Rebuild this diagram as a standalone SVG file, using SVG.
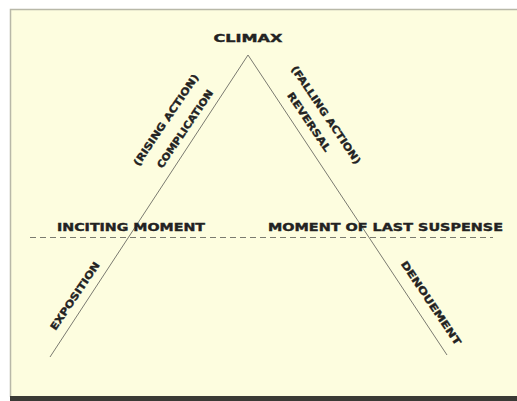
<svg xmlns="http://www.w3.org/2000/svg" width="517" height="401" viewBox="0 0 517 401">
<style>
.lbl{font-family:"DejaVu Sans","Liberation Sans",sans-serif;font-weight:bold;font-size:10px;fill:#222;stroke:#222;stroke-width:0.35}
.conn{stroke:#7a7a70;stroke-width:1;fill:none}
</style>
<rect x="0" y="0" width="517" height="401" fill="#ffffff"/>
<rect x="10" y="9" width="507" height="389" fill="#fdfddf"/>
<path d="M10.5 397 V9.5 H517" fill="none" stroke="#b8b8a8" stroke-width="1.5"/>
<rect x="10" y="396" width="507" height="5" fill="#3a3a35"/>
<g id="connectors">
<path class="conn" d="M50 357 L248 55 L447 355"/>
<path class="conn" d="M30 237.5 H493" stroke-dasharray="6 4"/>
</g>
<g id="climax"><text class="lbl" x="248" y="42" text-anchor="middle" font-size="11.5" textLength="69" lengthAdjust="spacingAndGlyphs">CLIMAX</text></g>
<g id="inciting"><text class="lbl" x="57" y="230.5" textLength="148" lengthAdjust="spacingAndGlyphs">INCITING MOMENT</text></g>
<g id="suspense"><text class="lbl" x="268" y="230.5" textLength="235" lengthAdjust="spacingAndGlyphs">MOMENT OF LAST SUSPENSE</text></g>
<g id="rising"><text class="lbl" transform="translate(166,120) rotate(-56)" x="0" y="3.5" text-anchor="middle" textLength="108" lengthAdjust="spacingAndGlyphs">(RISING ACTION)</text></g>
<g id="complication"><text class="lbl" transform="translate(185,129) rotate(-56)" x="0" y="3.5" text-anchor="middle" textLength="92" lengthAdjust="spacingAndGlyphs">COMPLICATION</text></g>
<g id="falling"><text class="lbl" transform="translate(326,115) rotate(56)" x="0" y="3.5" text-anchor="middle" textLength="116" lengthAdjust="spacingAndGlyphs">(FALLING ACTION)</text></g>
<g id="reversal"><text class="lbl" transform="translate(309,122) rotate(56)" x="0" y="3.5" text-anchor="middle" textLength="69" lengthAdjust="spacingAndGlyphs">REVERSAL</text></g>
<g id="exposition"><text class="lbl" transform="translate(75,296) rotate(-56)" x="0" y="3.5" text-anchor="middle" textLength="80" lengthAdjust="spacingAndGlyphs">EXPOSITION</text></g>
<g id="denouement"><text class="lbl" transform="translate(431,303) rotate(56)" x="0" y="3.5" text-anchor="middle" textLength="99" lengthAdjust="spacingAndGlyphs">DENOUEMENT</text></g>
</svg>
